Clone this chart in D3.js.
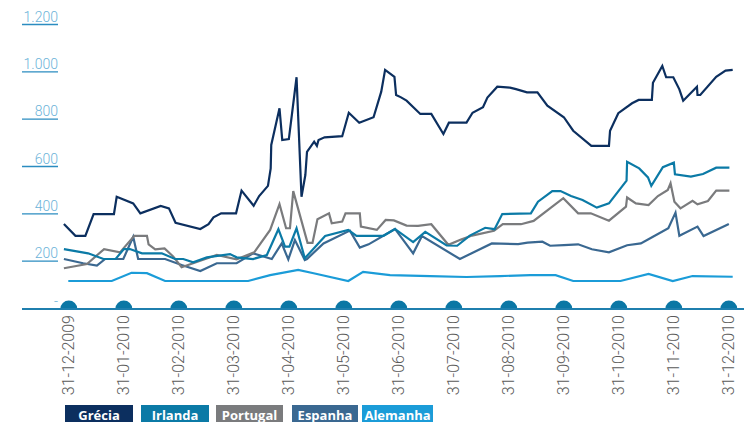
<!DOCTYPE html>
<html>
<head>
<meta charset="utf-8">
<script src="https://cdn.jsdelivr.net/npm/d3@7/dist/d3.min.js"></script>
<style>
  html, body { margin: 0; padding: 0; background: #ffffff; }
  svg { display: block; }
</style>
</head>
<body>
<svg id="chart" width="744" height="422"></svg>
<script>
// Month-end labels of the horizontal axis (one per month, evenly spaced)
const monthLabels = ["31-12-2009", "31-01-2010", "31-02-2010", "31-03-2010", "31-04-2010",
  "31-05-2010", "31-06-2010", "31-07-2010", "31-08-2010", "31-09-2010",
  "31-10-2010", "31-11-2010", "31-12-2010"];

// Vertical axis ticks
const yTicks = [0, 200, 400, 600, 800, 1000, 1200];

// Series: [position in months from 31-12-2009, value]
const grecia = [
  [-0.08, 355], [0.13, 305], [0.31, 305], [0.46, 397], [0.83, 397], [0.88, 470], [1.18, 442],
  [1.31, 400], [1.68, 431], [1.83, 421], [1.95, 360], [2.40, 334], [2.55, 354], [2.64, 383],
  [2.78, 400], [3.05, 400], [3.15, 496], [3.37, 432], [3.47, 473], [3.63, 516], [3.68, 590],
  [3.69, 689], [3.84, 844], [3.89, 710], [4.01, 714], [4.15, 975], [4.24, 470], [4.31, 562],
  [4.34, 660], [4.47, 703], [4.52, 685], [4.55, 710], [4.66, 721], [4.98, 726], [5.10, 825],
  [5.29, 783], [5.55, 806], [5.69, 914], [5.76, 1006], [5.93, 977], [5.96, 900], [6.05, 890],
  [6.15, 876], [6.40, 820], [6.60, 820], [6.82, 735], [6.92, 783], [7.24, 783], [7.35, 825],
  [7.54, 848], [7.62, 889], [7.80, 935], [8.03, 931], [8.14, 925], [8.34, 911], [8.53, 911],
  [8.71, 855], [9.01, 806], [9.18, 749], [9.51, 685], [9.83, 685], [9.85, 749], [10.00, 823],
  [10.25, 865], [10.37, 879], [10.61, 879], [10.63, 952], [10.80, 1023], [10.87, 975],
  [11.00, 975], [11.11, 924], [11.18, 876], [11.43, 935], [11.44, 900], [11.49, 900],
  [11.78, 977], [11.95, 1003], [12.08, 1006]
];

const irlanda = [
  [-0.08, 249], [0.36, 231], [0.64, 207], [0.86, 207], [1.01, 249], [1.12, 249], [1.34, 231],
  [1.70, 231], [1.94, 207], [2.09, 207], [2.27, 193], [2.52, 214], [2.94, 228], [3.06, 214],
  [3.36, 207], [3.61, 224], [3.82, 333], [3.94, 259], [4.02, 259], [4.15, 337], [4.30, 210],
  [4.67, 304], [5.09, 330], [5.24, 305], [5.73, 305], [5.94, 334], [6.27, 278], [6.49, 322],
  [6.88, 264], [7.07, 263], [7.30, 306], [7.58, 339], [7.75, 333], [7.89, 397], [8.41, 400],
  [8.54, 449], [8.80, 494], [8.95, 494], [9.14, 473], [9.35, 456], [9.61, 424], [9.83, 442],
  [10.15, 538], [10.16, 618], [10.38, 590], [10.54, 552], [10.60, 516], [10.81, 595],
  [11.01, 614], [11.03, 565], [11.32, 555], [11.54, 566], [11.78, 593], [12.02, 593]
];

const portugal = [
  [-0.08, 168], [0.34, 186], [0.65, 249], [0.94, 235], [1.20, 305], [1.43, 305], [1.46, 269],
  [1.58, 248], [1.75, 252], [1.91, 217], [2.06, 172], [2.70, 224], [3.06, 206], [3.38, 235],
  [3.67, 330], [3.84, 439], [3.96, 337], [4.03, 337], [4.09, 494], [4.35, 275], [4.44, 275],
  [4.53, 375], [4.74, 400], [4.79, 358], [4.98, 365], [5.04, 400], [5.30, 400], [5.32, 344],
  [5.61, 330], [5.77, 372], [5.92, 370], [6.15, 348], [6.36, 347], [6.60, 354], [6.91, 267],
  [7.14, 289], [7.34, 306], [7.74, 326], [7.90, 354], [8.23, 354], [8.46, 368], [9.00, 464],
  [9.27, 400], [9.50, 400], [9.83, 369], [10.14, 428], [10.16, 467], [10.32, 442], [10.55, 435],
  [10.72, 473], [10.90, 499], [10.95, 527], [11.02, 449], [11.13, 421], [11.35, 453],
  [11.44, 438], [11.63, 452], [11.78, 496], [12.02, 496]
];

const espanha = [
  [-0.08, 207], [0.27, 189], [0.52, 179], [0.67, 207], [1.00, 207], [1.18, 301], [1.27, 207],
  [1.76, 207], [2.06, 182], [2.40, 156], [2.70, 189], [3.06, 189], [3.36, 231], [3.70, 207],
  [3.88, 273], [4.00, 205], [4.12, 287], [4.30, 203], [4.34, 207], [4.64, 273], [5.12, 327],
  [5.30, 255], [5.46, 269], [5.94, 334], [6.27, 231], [6.43, 304], [7.12, 207], [7.70, 273],
  [8.18, 270], [8.35, 276], [8.62, 280], [8.76, 263], [9.01, 266], [9.27, 269], [9.52, 248],
  [9.83, 235], [10.16, 265], [10.41, 273], [10.63, 301], [10.91, 337], [11.04, 403],
  [11.11, 305], [11.44, 344], [11.55, 304], [12.01, 355]
];

const alemanha = [
  [0.00, 114], [0.79, 114], [1.15, 149], [1.43, 147], [1.76, 114], [3.27, 114], [3.67, 139],
  [4.18, 161], [4.46, 147], [5.09, 114], [5.36, 153], [5.85, 139], [6.58, 135], [7.24, 131],
  [7.85, 135], [8.40, 139], [8.86, 139], [9.18, 114], [10.04, 114], [10.55, 144], [10.99, 114],
  [11.35, 135], [12.08, 132]
];

const seriesNames = ["Grécia", "Irlanda", "Portugal", "Espanha", "Alemanha"];
const seriesData = [grecia, irlanda, portugal, espanha, alemanha];
const seriesColors = ["#0c2f5f", "#0b7aa6", "#7a7b7d", "#3a6891", "#1b9cd8"];

const svg = d3.select("#chart");

const x = d3.scaleLinear().domain([0, 12]).range([68.3, 728.3]);
const y = d3.scaleLinear().domain([0, 1200]).range([308, 24]);

// Portuguese number formatting: 1.200, zero shown as a dash
const pt = d3.formatLocale({ decimal: ",", thousands: ".", grouping: [3], currency: ["", " €"] });
const fmt = pt.format(",");

// Vertical axis: labels sitting on short underlines
const yAxis = svg.append("g")
  .attr("transform", "translate(58,0)")
  .call(d3.axisLeft(y).tickValues(yTicks).tickSize(36).tickFormat(d => d === 0 ? "-" : fmt(d)));
yAxis.select(".domain").remove();
yAxis.selectAll(".tick line")
  .attr("stroke", "#2b8cc0").attr("stroke-width", 1.3)
  .style("display", d => d === 0 ? "none" : null);
yAxis.selectAll(".tick text")
  .attr("x", 0).attr("dy", "-0.2em")
  .attr("text-anchor", "end")
  .attr("fill", "#6cb3d9")
  .style("font-family", "Roboto, 'Open Sans', sans-serif")
  .style("font-weight", 300)
  .style("font-size", "14px");

// Lines
const line = d3.line().x(d => x(d[0])).y(d => y(d[1]));
svg.append("g").selectAll("path")
  .data(seriesData.slice().reverse())
  .join("path")
  .attr("d", line)
  .attr("fill", "none")
  .attr("stroke", (d, i) => seriesColors[seriesData.length - 1 - i])
  .attr("stroke-width", 2.2)
  .attr("stroke-linejoin", "miter");

// Horizontal axis with half-disc markers
const xAxis = svg.append("g")
  .attr("transform", "translate(0,309)")
  .call(d3.axisBottom(x).tickValues(d3.range(monthLabels.length)).tickSize(0)
    .tickFormat(i => monthLabels[i]));
xAxis.select(".domain").remove();
svg.append("line")
  .attr("x1", 22).attr("x2", 744).attr("y1", 309).attr("y2", 309)
  .attr("stroke", "#1f7fae").attr("stroke-width", 2);
const half = d3.arc().innerRadius(0).outerRadius(8.5).startAngle(-Math.PI / 2).endAngle(Math.PI / 2);
xAxis.selectAll(".tick").append("path")
  .attr("d", half())
  .attr("fill", "#0b77a5");
xAxis.selectAll(".tick text")
  .attr("transform", "rotate(-90)")
  .attr("x", -6).attr("y", 0).attr("dy", "0.35em")
  .attr("text-anchor", "end")
  .attr("fill", "#5a5a5a")
  .style("font-family", "Roboto, sans-serif")
  .style("font-weight", 300)
  .style("font-size", "16px");

// Legend
const legendX = [65, 141, 216, 292, 362];
const legendW = [68, 68, 67, 66, 71];
const legend = svg.append("g").selectAll("g")
  .data(seriesNames)
  .join("g")
  .attr("transform", (d, i) => `translate(${legendX[i]},405)`);
legend.append("rect")
  .attr("width", (d, i) => legendW[i]).attr("height", 20)
  .attr("fill", (d, i) => seriesColors[i]);
legend.append("text")
  .attr("x", (d, i) => legendW[i] / 2).attr("y", 14.5)
  .attr("text-anchor", "middle")
  .attr("fill", "#ffffff")
  .style("font-family", "'Open Sans', sans-serif")
  .style("font-weight", 700)
  .style("font-size", "13px")
  .text(d => d);
</script>
</body>
</html>
